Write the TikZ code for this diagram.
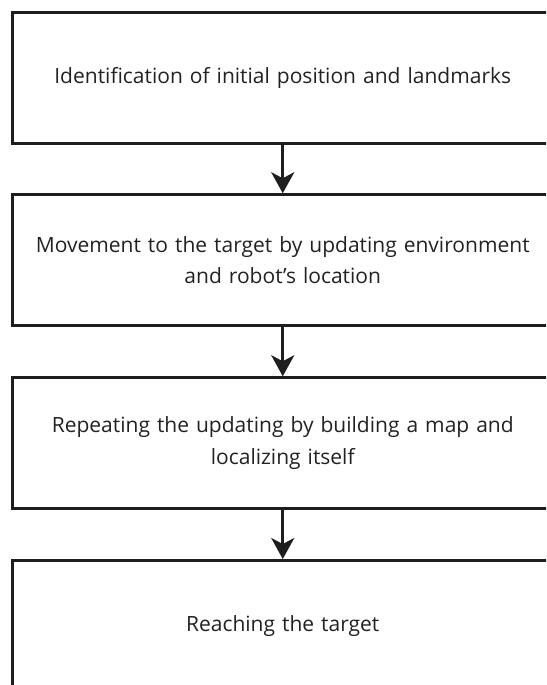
\documentclass[tikz,border=0pt]{standalone}
\usepackage{fontspec}
\setmainfont{Open Sans}
\usetikzlibrary{arrows.meta}
\definecolor{ink}{HTML}{1E1E1E}
\definecolor{txt}{HTML}{222222}
\tikzset{
  stepbox/.style={draw=ink, line width=3pt, minimum width=540.5pt, minimum height=131pt,
    inner sep=0pt, align=center, text=txt, font=\fontsize{21}{31.5}\selectfont, text width=500pt},
  arr/.style={draw=ink, line width=3pt, -{Stealth[length=21pt,width=23pt,inset=6pt]}}
}
\begin{document}
\begin{tikzpicture}[x=1pt,y=-1pt]
\useasboundingbox (0,0) rectangle (546,685);
\clip (0,0) rectangle (546,685);
\node[stepbox] (b1) at (282.75,78) {Identification of initial position and landmarks};
\node[stepbox] (b2) at (282.75,260.25) {Movement to the target by updating environment\\and robot’s location};
\node[stepbox] (b3) at (282.75,443.25) {Repeating the updating by building a map and\\localizing itself};
\node[stepbox] (b4) at (282.75,626) {Reaching the target};
\draw[arr] (b1.south) -- (b2.north);
\draw[arr] (b2.south) -- (b3.north);
\draw[arr] (b3.south) -- (b4.north);
\end{tikzpicture}
\end{document}
